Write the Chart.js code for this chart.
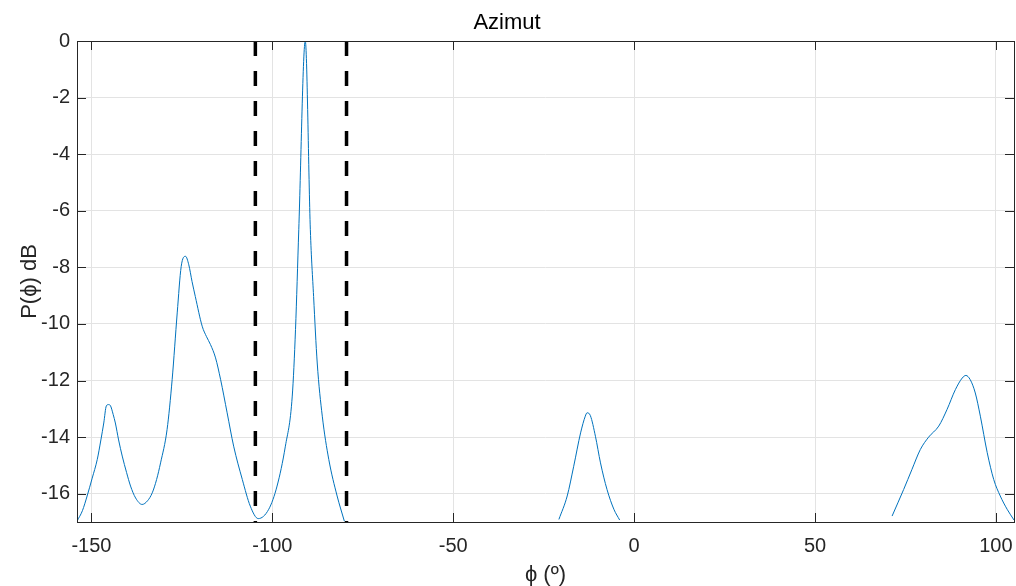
<!DOCTYPE html>
<html>
<head>
<meta charset="utf-8">
<script src="https://cdn.jsdelivr.net/npm/chart.js@4"></script>
<style>
  html, body { margin: 0; padding: 0; background: #fff; }
  #wrap { width: 1016px; height: 586px; position: relative; }
</style>
</head>
<body>
<div id="wrap"><canvas id="c"></canvas></div>
<script>
// ---- data ----
const phiDeg = [
  -154, -152.5, -151.2, -149.8, -148.4, -147.4, -146.6, -145.9, -145.3, -144.8,
  -144.0, -143.4, -142.5, -141.5, -140.3, -139.2, -137.8, -136.0, -134.5, -133.2,
  -132.0, -130.9, -129.1, -127.7, -126.3, -125.2, -124.0, -123.1, -122.2, -121.3,
  -119.4, -118.2, -117.1, -115.7, -114.3, -112.5, -110.7, -108.3, -106.1, -103.9,
  -101.0, -98.7, -96.4, -94.5, -93.6, -92.7, -90.9, -89.5, -88.6, -87.6,
  -86.2, -84.4, -82.1, -80.1,
  -50,
  -20.8, -18.5, -16.7, -14.8, -13.5, -13.0, -12.1, -10.7, -9.3, -7.5, -5.6, -4.0,
  30,
  71.3, 74.5, 76.8, 79.1, 81.4, 84.2, 86.5, 88.8, 90.7, 91.7,
  92.9, 94.3, 95.7, 97.6, 99.4, 101.2, 103.1, 105.0
];
const powerDb = [
  -16.97, -16.6, -16.08, -15.45, -14.79, -14.1, -13.5, -12.9, -12.85, -12.88,
  -13.2, -13.5, -14.1, -14.67, -15.25, -15.73, -16.15, -16.38, -16.25, -15.97,
  -15.5, -14.91, -13.73, -11.97, -9.61, -7.97, -7.61, -7.91, -8.5, -9.03,
  -10.08, -10.45, -10.73, -11.2, -11.97, -13.14, -14.32, -15.5, -16.44, -16.88,
  -16.55, -15.73, -14.32, -12.55, -10.2, -6.67, 0, -6.67, -9.03, -11.38,
  -13.26, -14.79, -16.08, -16.97,
  null,
  -16.91, -16.08, -15.03, -13.85, -13.26, -13.14, -13.24, -13.97, -14.91, -15.85, -16.55, -16.93,
  null,
  -16.79, -15.85, -15.14, -14.44, -14.0, -13.61, -13.02, -12.32, -11.91, -11.82,
  -11.97, -12.44, -13.26, -14.55, -15.5, -16.08, -16.55, -16.93
];
const boundaryPhi = [-104.7, -79.5];
const boundaryDb = [0, -17];
const xTickValues = [-150, -100, -50, 0, 50, 100];
const yTickValues = [-16, -14, -12, -10, -8, -6, -4, -2, 0];
const titleText = 'Azimut';
const xLabel = 'ϕ (º)';
const yLabel = 'P(ϕ) dB';

// ---- build chart ----
const FONT = "'Liberation Sans', Arial, Helvetica, sans-serif";
const AX = '#262626';

const curve = phiDeg.map((x, i) => ({ x: x, y: powerDb[i] }));
const boundarySets = boundaryPhi.map(p => ({
  data: boundaryDb.map(v => ({ x: p, y: v })),
  borderColor: '#000',
  borderWidth: 3.5,
  borderDash: [15, 15],
  borderCapStyle: 'butt',
  pointRadius: 0,
  tension: 0,
  fill: false
}));

const boxPlugin = {
  id: 'boxPlugin',
  beforeDraw(chart) {
    const ctx = chart.ctx;
    ctx.save();
    ctx.fillStyle = '#fff';
    ctx.fillRect(0, 0, chart.width, chart.height);
    ctx.restore();
  },
  afterDraw(chart) {
    const ctx = chart.ctx;
    const a = chart.chartArea;
    const xs = chart.scales.x, ys = chart.scales.y;
    const L = 9;
    ctx.save();
    ctx.strokeStyle = AX;
    ctx.lineWidth = 1;
    ctx.beginPath();
    xTickValues.forEach(v => {
      const px = Math.round(xs.getPixelForValue(v)) + 0.5;
      ctx.moveTo(px, a.bottom); ctx.lineTo(px, a.bottom - L);
      ctx.moveTo(px, a.top); ctx.lineTo(px, a.top + L);
    });
    yTickValues.forEach(v => {
      const py = Math.round(ys.getPixelForValue(v)) + 0.5;
      ctx.moveTo(a.left, py); ctx.lineTo(a.left + L, py);
      ctx.moveTo(a.right, py); ctx.lineTo(a.right - L, py);
    });
    ctx.stroke();
    ctx.strokeRect(Math.round(a.left) + 0.5, Math.round(a.top) + 0.5,
                   Math.round(a.right - a.left), Math.round(a.bottom - a.top));
    ctx.restore();
  }
};

new Chart(document.getElementById('c'), {
  type: 'line',
  data: {
    datasets: [
      ...boundarySets,
      {
        data: curve,
        borderColor: '#0072BD',
        borderWidth: 1,
        pointRadius: 0,
        cubicInterpolationMode: 'monotone',
        spanGaps: false,
        fill: false
      }
    ]
  },
  options: {
    responsive: true,
    maintainAspectRatio: false,
    animation: false,
    devicePixelRatio: 1,
    layout: { padding: { left: 0, right: 2, top: 0, bottom: 0 } },
    plugins: {
      legend: { display: false },
      tooltip: { enabled: false },
      title: {
        display: true,
        text: titleText,
        color: '#000',
        font: { family: FONT, size: 22, weight: 'normal', lineHeight: 1.2 },
        padding: { top: 10, bottom: 4.6 }
      }
    },
    scales: {
      x: {
        type: 'linear',
        min: -154,
        max: 105,
        afterFit(s) { s.height = 64; s.paddingLeft = 0; s.paddingRight = 0; },
        afterBuildTicks(s) { s.ticks = xTickValues.map(v => ({ value: v })); },
        ticks: {
          color: AX,
          padding: 12,
          font: { family: FONT, size: 20 },
          callback: v => String(v)
        },
        grid: { color: '#e3e3e3', lineWidth: 1, drawTicks: false },
        border: { display: false },
        title: {
          display: true,
          text: xLabel,
          color: AX,
          font: { family: FONT, size: 22, lineHeight: 1.0 },
          padding: { top: 0, bottom: 0 }
        }
      },
      y: {
        type: 'linear',
        min: -17,
        max: 0,
        afterFit(s) { s.width = 77; s.paddingTop = 0; s.paddingBottom = 0; },
        afterBuildTicks(s) { s.ticks = yTickValues.map(v => ({ value: v })); },
        ticks: {
          color: AX,
          padding: 7,
          font: { family: FONT, size: 20 },
          callback: v => String(v)
        },
        grid: { color: '#e3e3e3', lineWidth: 1, drawTicks: false },
        border: { display: false },
        title: {
          display: true,
          text: yLabel,
          color: AX,
          font: { family: FONT, size: 22, lineHeight: 1.2 },
          padding: { top: 17, bottom: 0 }
        }
      }
    }
  },
  plugins: [boxPlugin]
});
</script>
</body>
</html>
